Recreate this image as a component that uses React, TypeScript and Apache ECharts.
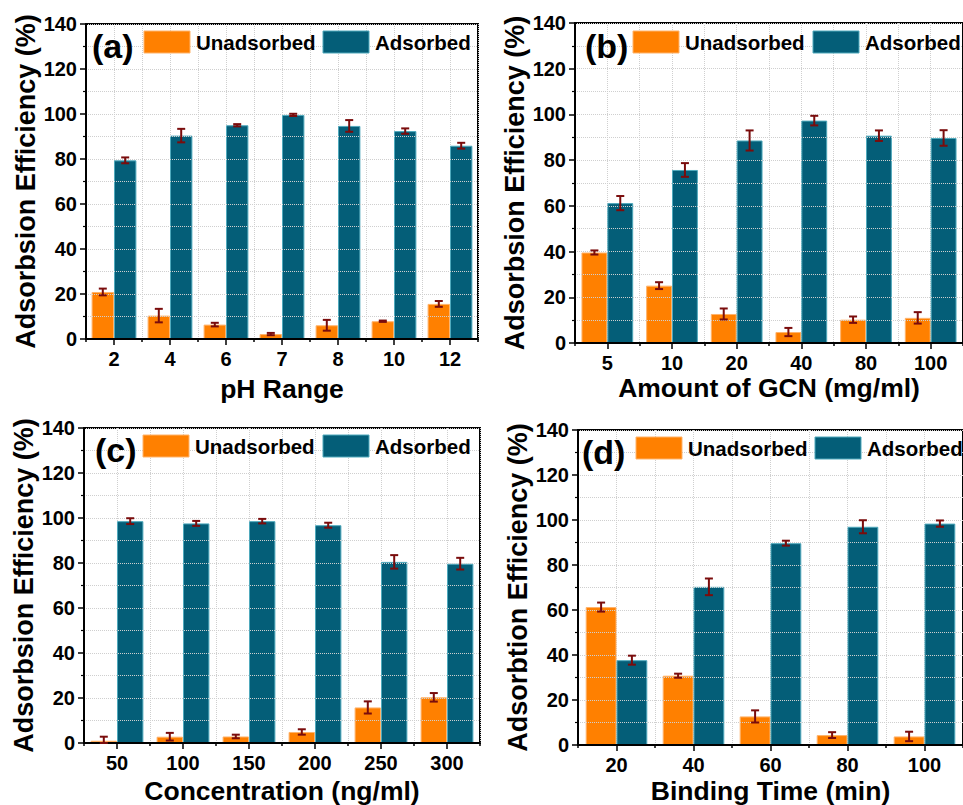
import React, { useEffect, useRef } from "react";
import * as echarts from "echarts";

// ---------- data ----------
const phLabels = ["2", "4", "6", "7", "8", "10", "12"];
const phUnads = [20.9, 10.4, 6.4, 2.2, 6.1, 7.9, 15.6];
const phUnadsErr = [1.5, 3.0, 0.8, 0.5, 2.4, 0.3, 1.3];
const phAds = [79.4, 90.4, 95.0, 99.6, 94.7, 92.4, 85.9];
const phAdsErr = [1.3, 3.0, 0.5, 0.5, 2.6, 1.2, 1.3];

const gcnLabels = ["5", "10", "20", "40", "80", "100"];
const gcnUnads = [39.6, 25.1, 12.7, 4.8, 10.2, 11.0];
const gcnUnadsErr = [0.9, 1.5, 2.4, 1.8, 1.4, 2.5];
const gcnAds = [61.2, 75.7, 88.6, 97.3, 90.7, 89.7];
const gcnAdsErr = [3.1, 3.0, 4.4, 2.1, 2.3, 3.4];

const concLabels = ["50", "100", "150", "200", "250", "300"];
const concUnads = [1.0, 2.8, 2.9, 4.9, 15.8, 20.3];
const concUnadsErr = [1.8, 1.7, 0.8, 1.2, 2.7, 1.9];
const concAds = [98.6, 97.6, 98.6, 96.8, 80.5, 79.7];
const concAdsErr = [1.3, 1.1, 1.0, 1.1, 3.0, 2.6];

const timeLabels = ["20", "40", "60", "80", "100"];
const timeUnads = [61.3, 30.8, 12.7, 4.4, 3.8];
const timeUnadsErr = [2.0, 0.9, 2.7, 1.3, 2.1];
const timeAds = [37.7, 70.3, 89.7, 97.0, 98.4];
const timeAdsErr = [2.0, 3.7, 1.1, 2.9, 1.4];

const seriesNames = ["Unadsorbed", "Adsorbed"];
const yTicks = { min: 0, max: 140, interval: 20 };

// ---------- styling / layout ----------
const FONT = 'Arial, "Liberation Sans", sans-serif';
const ORANGE = "#FF8000";
const TEAL = "#045E78";
const ORANGE_EDGE = "#FFB36B";
const TEAL_EDGE = "#4FA9BC";
const ERR = "#7A0C0C";
const GRIDLINE = "#cfcfcf";

const panels = [
  {
    tag: "(a)", labels: phLabels, unads: phUnads, unadsErr: phUnadsErr, ads: phAds, adsErr: phAdsErr,
    xName: "pH Range", yName: "Adsorbsion Efficiency (%)",
    grid: { left: 86, top: 24, width: 392, height: 315 },
    xGap: 36, yGap: 45, legend: { x1: 144, x2: 323, top: 31 }, tagPos: [92, 46],
  },
  {
    tag: "(b)", labels: gcnLabels, unads: gcnUnads, unadsErr: gcnUnadsErr, ads: gcnAds, adsErr: gcnAdsErr,
    xName: "Amount of GCN (mg/ml)", yName: "Adsorbsion Efficiency (%)",
    grid: { left: 575, top: 23, width: 396, height: 320 },
    xGap: 31, yGap: 44, legend: { x1: 633, x2: 813, top: 31 }, tagPos: [585, 46],
  },
  {
    tag: "(c)", labels: concLabels, unads: concUnads, unadsErr: concUnadsErr, ads: concAds, adsErr: concAdsErr,
    xName: "Concentration (ng/ml)", yName: "Adsorbsion Efficiency (%)",
    grid: { left: 84, top: 428, width: 396, height: 317 },
    xGap: 34, yGap: 45, legend: { x1: 143, x2: 323, top: 435 }, tagPos: [95, 450],
  },
  {
    tag: "(d)", labels: timeLabels, unads: timeUnads, unadsErr: timeUnadsErr, ads: timeAds, adsErr: timeAdsErr,
    xName: "Binding Time (min)", yName: "Adsorbtion Efficiency (%)",
    grid: { left: 578, top: 430, width: 393, height: 317 },
    xGap: 32, yGap: 46, legend: { x1: 636, x2: 815, top: 437 }, tagPos: [582, 452],
  },
];

function legendItem(x: number, y: number, fill: string, edge: string, text: string) {
  return [
    {
      type: "rect",
      z: 20,
      shape: { x, y, width: 46, height: 22 },
      style: { fill, stroke: edge, lineWidth: 1 },
    },
    {
      type: "text",
      z: 20,
      x: x + 52,
      y: y + 11.5,
      style: {
        text,
        font: `bold 20.5px ${FONT}`,
        fill: "#000",
        verticalAlign: "middle",
        align: "left",
      },
    },
  ];
}

function buildOption() {
  const grid: any[] = [];
  const xAxis: any[] = [];
  const yAxis: any[] = [];
  const series: any[] = [];
  const graphic: any[] = [];

  panels.forEach((p, i) => {
    grid.push({ ...p.grid, show: true, borderColor: "#000", borderWidth: 2, backgroundColor: "transparent" });

    // category axis (labels, ticks at centres)
    xAxis.push({
      type: "category",
      gridIndex: i,
      data: p.labels,
      name: p.xName,
      nameLocation: "middle",
      nameGap: p.xGap,
      nameTextStyle: { fontFamily: FONT, fontWeight: "bold", fontSize: 26.5, color: "#000" },
      axisLine: { lineStyle: { color: "#000", width: 2 } },
      axisTick: { show: true, alignWithLabel: true, length: 6, lineStyle: { color: "#000", width: 1.5 } },
      axisLabel: { fontFamily: FONT, fontWeight: "bold", fontSize: 20, color: "#000", margin: 10 },
      splitLine: { show: false },
      z: 5,
    });
    // helper value axis: boundary ticks + vertical grid lines
    xAxis.push({
      type: "value",
      gridIndex: i,
      min: 0,
      max: p.labels.length,
      interval: 1,
      position: "bottom",
      axisLine: { show: false },
      axisTick: { show: true, length: 3, lineStyle: { color: "#000", width: 1.5 } },
      axisLabel: { show: false },
      splitLine: { show: true, lineStyle: { color: GRIDLINE, type: "dotted", width: 1 } },
      minorTick: { show: false, splitNumber: 2 },
      minorSplitLine: { show: true, lineStyle: { color: GRIDLINE, type: "dotted", width: 1 } },
    });

    yAxis.push({
      type: "value",
      gridIndex: i,
      min: yTicks.min,
      max: yTicks.max,
      interval: yTicks.interval,
      name: p.yName,
      nameLocation: "middle",
      nameGap: p.yGap,
      nameTextStyle: { fontFamily: FONT, fontWeight: "bold", fontSize: 27, color: "#000" },
      axisLine: { show: true, lineStyle: { color: "#000", width: 2 } },
      axisTick: { show: true, length: 6, lineStyle: { color: "#000", width: 1.5 } },
      minorTick: { show: true, splitNumber: 2, length: 3, lineStyle: { color: "#000", width: 1.2 } },
      axisLabel: { fontFamily: FONT, fontWeight: "bold", fontSize: 20, color: "#000", margin: 9 },
      splitLine: { show: true, lineStyle: { color: GRIDLINE, type: "dotted", width: 1 } },
      minorSplitLine: { show: true, lineStyle: { color: GRIDLINE, type: "dotted", width: 1 } },
      z: 5,
    });

    const catIdx = i * 2;
    series.push({
      type: "bar",
      name: seriesNames[0],
      xAxisIndex: catIdx,
      yAxisIndex: i,
      data: p.unads,
      barGap: "0%",
      barCategoryGap: "20%",
      itemStyle: { color: ORANGE, borderColor: ORANGE_EDGE, borderWidth: 1 },
    });
    series.push({
      type: "bar",
      name: seriesNames[1],
      xAxisIndex: catIdx,
      yAxisIndex: i,
      data: p.ads,
      barGap: "0%",
      barCategoryGap: "20%",
      itemStyle: { color: TEAL, borderColor: TEAL_EDGE, borderWidth: 1 },
    });

    const errData: any[] = [];
    p.unads.forEach((v, k) => errData.push([k, v, p.unadsErr[k], -1]));
    p.ads.forEach((v, k) => errData.push([k, v, p.adsErr[k], 1]));
    series.push({
      type: "custom",
      name: "err" + i,
      xAxisIndex: catIdx,
      yAxisIndex: i,
      data: errData,
      encode: { x: 0, y: 1 },
      z: 10,
      silent: true,
      renderItem: (params: any, api: any) => {
        const idx = api.value(0);
        const mean = api.value(1);
        const err = api.value(2);
        const sign = api.value(3);
        const c = api.coord([idx, mean]);
        const bw = api.size([1, 0])[0];
        const cx = c[0] + sign * bw * 0.2;
        const yTop = api.coord([idx, mean + err])[1];
        const yBot = api.coord([idx, Math.max(0, mean - err)])[1];
        const hw = 4;
        const st = { stroke: ERR, lineWidth: 2 };
        return {
          type: "group",
          children: [
            { type: "line", shape: { x1: cx, y1: yTop, x2: cx, y2: yBot }, style: st },
            { type: "line", shape: { x1: cx - hw, y1: yTop, x2: cx + hw, y2: yTop }, style: st },
            { type: "line", shape: { x1: cx - hw, y1: yBot, x2: cx + hw, y2: yBot }, style: st },
          ],
        };
      },
    });

    graphic.push(...legendItem(p.legend.x1, p.legend.top, ORANGE, ORANGE_EDGE, seriesNames[0]));
    graphic.push(...legendItem(p.legend.x2, p.legend.top, TEAL, TEAL_EDGE, seriesNames[1]));

    graphic.push({
      type: "text",
      x: p.tagPos[0],
      y: p.tagPos[1],
      z: 20,
      style: {
        text: p.tag,
        font: `bold 34px ${FONT}`,
        fill: "#000",
        verticalAlign: "middle",
        align: "left",
      },
    });
  });

  return {
    animation: false,
    backgroundColor: "#fff",
    grid,
    xAxis,
    yAxis,
    series,
    graphic,
  };
}

export default function App() {
  const ref = useRef<HTMLDivElement>(null);
  useEffect(() => {
    if (!ref.current) return;
    const chart = echarts.init(ref.current, undefined, { renderer: "svg" });
    chart.setOption(buildOption() as any);
    return () => chart.dispose();
  }, []);
  return (
    <div
      ref={ref}
      style={{ position: "absolute", left: 0, top: 0, width: 963, height: 805, background: "#fff" }}
    />
  );
}
